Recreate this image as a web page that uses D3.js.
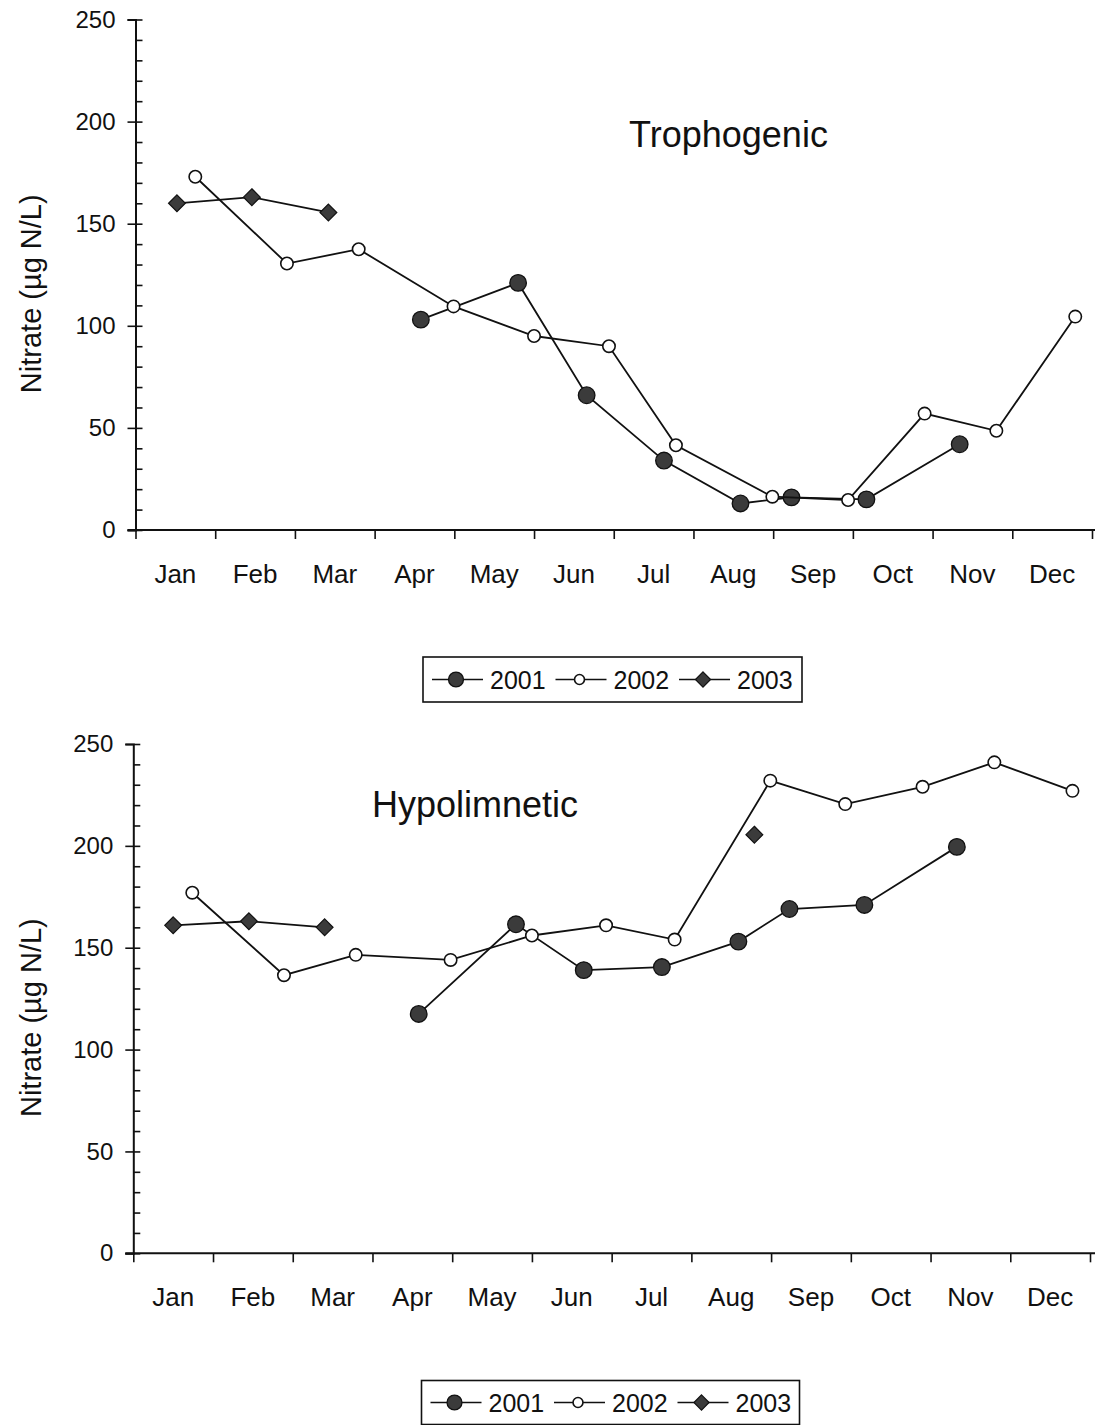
<!DOCTYPE html>
<html>
<head>
<meta charset="utf-8">
<script src="https://cdn.jsdelivr.net/npm/d3@7"></script>
<style>
  body { margin: 0; background: #fff; }
  svg { display: block; }
  text { font-family: "Liberation Sans", Arial, Helvetica, sans-serif; fill: #111; }
</style>
</head>
<body>
<svg id="chart" width="1095" height="1425"></svg>
<script>
// Month categories and value ticks
const months = ["Jan", "Feb", "Mar", "Apr", "May", "Jun", "Jul", "Aug", "Sep", "Oct", "Nov", "Dec"];
const majorTicks = [0, 50, 100, 150, 200, 250];
const years = ["2001", "2002", "2003"];

// Trophogenic layer — sampling time (months since 1 Jan) and nitrate (µg N/L)
const tro2001Month = [3.58, 4.80, 5.66, 6.63, 7.59, 8.23, 9.17, 10.34];
const tro2001Value = [103, 121, 66, 34, 13, 16, 15, 42];
const tro2002Month = [0.75, 1.90, 2.80, 3.99, 5.00, 5.94, 6.78, 7.99, 8.94, 9.90, 10.80, 11.79];
const tro2002Value = [173, 130.5, 137.5, 109.5, 95, 90, 41.5, 16.3, 14.7, 57, 48.6, 104.5];
const tro2003Month = [0.52, 1.46, 2.42];
const tro2003Value = [160, 163, 155.5];

// Hypolimnetic layer — the 2003 series has no samples between March and August
const hyp2001Month = [3.58, 4.80, 5.65, 6.63, 7.59, 8.23, 9.17, 10.33];
const hyp2001Value = [117.5, 161.5, 139, 140.5, 153, 169, 171, 199.5];
const hyp2002Month = [0.74, 1.89, 2.79, 3.98, 5.00, 5.93, 6.79, 7.99, 8.93, 9.90, 10.80, 11.78];
const hyp2002Value = [177, 136.5, 146.5, 144, 156, 161, 154, 232, 220.5, 229, 241, 227];
const hyp2003Month = [0.50, 1.45, 2.40, null, 7.79];
const hyp2003Value = [161, 163, 160, null, 205.5];

const zip = (m, v) => m.map((d, i) => ({ m: d, v: v[i] }));

const panels = [
  {
    title: "Trophogenic",
    series: [zip(tro2001Month, tro2001Value), zip(tro2002Month, tro2002Value), zip(tro2003Month, tro2003Value)],
    x0: 135.5, x1: 1092, yTop: 19.5, yBot: 530,
    titlePos: [728.5, 147],
    legend: { x: 423, y: 657, w: 379, h: 45 },
    labelPad: 35
  },
  {
    title: "Hypolimnetic",
    series: [zip(hyp2001Month, hyp2001Value), zip(hyp2002Month, hyp2002Value), zip(hyp2003Month, hyp2003Value)],
    x0: 133.3, x1: 1090, yTop: 744, yBot: 1253.3,
    titlePos: [475, 817],
    legend: { x: 421.5, y: 1380.5, w: 378, h: 44 },
    labelPad: 34
  }
];

const svg = d3.select("#chart");
const ink = "#111";
const darkFill = "#3b3b3b";

// Marker drawing per series: 0 = filled circle, 1 = open circle, 2 = filled diamond
function drawMarker(sel, kind, cx, cy, scale) {
  const s = scale || 1;
  if (kind === 0) {
    sel.append("circle").attr("cx", cx).attr("cy", cy).attr("r", 8.3 * s)
      .attr("fill", darkFill).attr("stroke", ink).attr("stroke-width", 1.3);
  } else if (kind === 1) {
    sel.append("circle").attr("cx", cx).attr("cy", cy).attr("r", 6.2 * s)
      .attr("fill", "#fff").attr("stroke", ink).attr("stroke-width", 1.6);
  } else {
    const h = 8.4 * s;
    sel.append("path")
      .attr("d", `M${cx},${cy - h}L${cx + h},${cy}L${cx},${cy + h}L${cx - h},${cy}Z`)
      .attr("fill", darkFill).attr("stroke", ink).attr("stroke-width", 1.2);
  }
}

panels.forEach(p => {
  const g = svg.append("g");
  const x = d3.scaleLinear().domain([0, 12]).range([p.x0, p.x1]);
  const y = d3.scaleLinear().domain([0, 250]).range([p.yBot, p.yTop]);
  const band = d3.scaleBand().domain(months).range([p.x0, p.x1]);

  // Left axis: major ticks with labels (pointing outward)
  const yAxis = g.append("g").attr("transform", `translate(${p.x0},0)`)
    .call(d3.axisLeft(y).tickValues(majorTicks).tickSize(8).tickPadding(12).tickFormat(d3.format("d")));
  yAxis.select(".domain").attr("stroke", ink).attr("stroke-width", 2);
  yAxis.selectAll(".tick line").attr("stroke", ink).attr("stroke-width", 1.6);
  yAxis.selectAll(".tick text").attr("font-size", 24).style("font-family", "'Liberation Sans', Arial, sans-serif").attr("fill", ink);

  // Inner ticks every 10 units
  const yInner = g.append("g").attr("transform", `translate(${p.x0},0)`)
    .call(d3.axisRight(y).tickValues(d3.range(0, 251, 10)).tickSize(7).tickFormat(""));
  yInner.select(".domain").remove();
  yInner.selectAll(".tick line").attr("stroke", ink).attr("stroke-width", 1.6);

  // Bottom axis: month boundaries
  const xAxis = g.append("g").attr("transform", `translate(0,${p.yBot})`)
    .call(d3.axisBottom(x).tickValues(d3.range(0, 13)).tickSize(9).tickFormat(""));
  xAxis.select(".domain").remove();
  xAxis.selectAll(".tick line").attr("stroke", ink).attr("stroke-width", 1.6);
  g.append("line")
    .attr("x1", p.x0 - 8).attr("x2", 1095)
    .attr("y1", p.yBot).attr("y2", p.yBot)
    .attr("stroke", ink).attr("stroke-width", 2);

  // Month names centred in each month
  const mAxis = g.append("g").attr("transform", `translate(0,${p.yBot})`)
    .call(d3.axisBottom(band).tickSize(0).tickPadding(p.labelPad));
  mAxis.select(".domain").remove();
  mAxis.selectAll(".tick text").attr("font-size", 26).style("font-family", "'Liberation Sans', Arial, sans-serif").attr("fill", ink);

  // Axis title
  const yMid = (p.yTop + p.yBot) / 2 + 19;
  g.append("text")
    .attr("transform", `translate(41,${yMid}) rotate(-90)`)
    .attr("text-anchor", "middle")
    .attr("font-size", 29)
    .text("Nitrate (µg N/L)");

  // Panel title
  g.append("text")
    .attr("x", p.titlePos[0]).attr("y", p.titlePos[1])
    .attr("text-anchor", "middle")
    .attr("font-size", 36)
    .text(p.title);

  // Series: line then markers
  const line = d3.line()
    .defined(d => d.m != null && d.v != null)
    .x(d => x(d.m)).y(d => y(d.v));
  p.series.forEach((data, k) => {
    g.append("path").datum(data)
      .attr("d", line)
      .attr("fill", "none").attr("stroke", ink).attr("stroke-width", 1.8);
    const mg = g.append("g");
    data.filter(d => d.m != null && d.v != null)
      .forEach(d => drawMarker(mg, k, x(d.m), y(d.v), 1));
  });

  // Legend
  const L = p.legend;
  const lg = g.append("g").attr("transform", `translate(${L.x},${L.y})`);
  lg.append("rect").attr("width", L.w).attr("height", L.h)
    .attr("fill", "#fff").attr("stroke", ink).attr("stroke-width", 1.6);
  const itemX = d3.scalePoint().domain(years).range([9, 256]);
  years.forEach((yr, k) => {
    const ix = itemX(yr);
    const cy = L.h / 2;
    lg.append("line").attr("x1", ix).attr("x2", ix + 51)
      .attr("y1", cy).attr("y2", cy)
      .attr("stroke", ink).attr("stroke-width", 1.6);
    drawMarker(lg, k, ix + 24, cy, k === 1 ? 0.8 : 0.9);
    lg.append("text").attr("x", ix + 58).attr("y", cy + 9)
      .attr("font-size", 25).text(yr);
  });
});
</script>
</body>
</html>
